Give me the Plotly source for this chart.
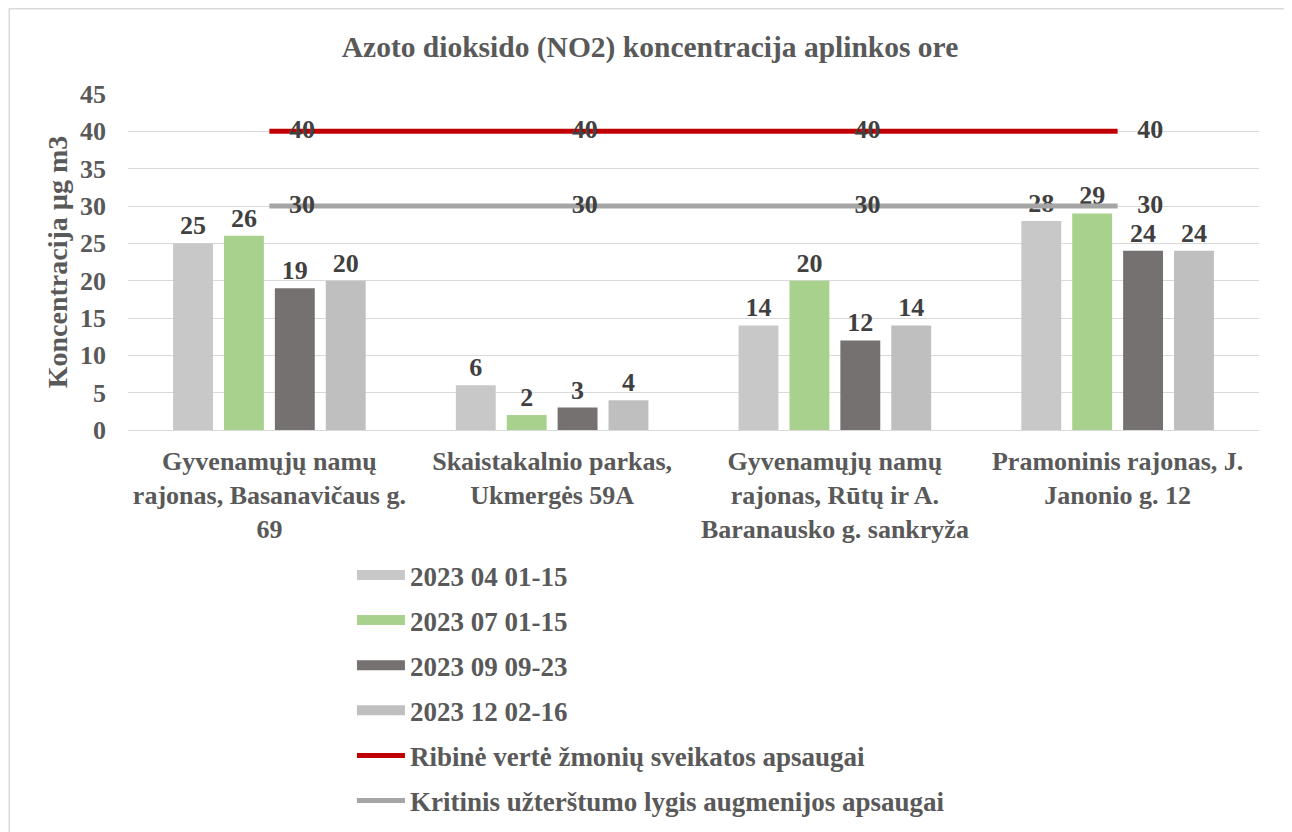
import plotly.graph_objects as go

# Datos
vietos = [
    "Gyvenamųjų namų<br>rajonas, Basanavičaus g.<br>69",
    "Skaistakalnio parkas,<br>Ukmergės 59A",
    "Gyvenamųjų namų<br>rajonas, Rūtų ir A.<br>Baranausko g. sankryža",
    "Pramoninis rajonas, J.<br>Janonio g. 12",
]
laikotarpiai = ["2023 04 01-15", "2023 07 01-15", "2023 09 09-23", "2023 12 02-16"]
balandis = [25, 6, 14, 28]
liepa = [26, 2, 20, 29]
rugsejis = [19, 3, 12, 24]
gruodis = [20, 4, 14, 24]
ribine = [40, 40, 40, 40]
kritinis = [30, 30, 30, 30]
spalvos = ["#C8C8C8", "#A9D18E", "#767171", "#BFBFBF"]

SERIF = "Liberation Serif, Times New Roman, serif"
fig = go.Figure()

for i, (vardas, reiksmes) in enumerate(zip(laikotarpiai, [balandis, liepa, rugsejis, gruodis])):
    fig.add_trace(go.Bar(
        x=vietos, y=reiksmes, name=vardas,
        marker=dict(color=spalvos[i], line=dict(width=0)),
        text=reiksmes, textposition="outside", cliponaxis=False,
        textfont=dict(family=SERIF, size=26, color="#404040", weight="bold"),
        showlegend=False,
    ))
    # legendos elementas (platus stačiakampis)
    fig.add_trace(go.Scatter(
        x=[None], y=[None], mode="lines", name="<b>" + vardas + "</b>",
        line=dict(color=spalvos[i], width=13),
        legendgroup="g%d" % i,
    ))

for j, (vardas, reiksmes, spalva) in enumerate([
        ("Ribinė vertė žmonių sveikatos apsaugai", ribine, "#C00000"),
        ("Kritinis užterštumo lygis augmenijos apsaugai", kritinis, "#A5A5A5")]):
    fig.add_trace(go.Scatter(
        x=vietos, y=reiksmes, name="<b>" + vardas + "</b>", mode="lines+text",
        line=dict(color=spalva, width=5),
        text=["\u00a0\u00a0\u00a0" + str(v) for v in reiksmes], textposition="middle right",
        textfont=dict(family=SERIF, size=26, color="#404040", weight="bold"),
        cliponaxis=False,
        legendgroup="l%d" % j,
    ))

fig.update_layout(
    width=1284, height=824,
    margin=dict(l=120, r=33, t=86, b=402, autoexpand=False),
    paper_bgcolor="white", plot_bgcolor="white",
    barmode="group", bargap=0.28, bargroupgap=0.216,
    title=dict(text="<b>Azoto dioksido (NO2) koncentracija aplinkos ore</b>",
               x=0.5, xanchor="center", y=0.9527, yanchor="middle",
               font=dict(family=SERIF, size=29.5, color="#595959")),
    font=dict(family=SERIF, color="#595959"),
    xaxis=dict(tickfont=dict(family=SERIF, size=26, color="#595959"),
               showgrid=False, showline=True, linecolor="#D9D9D9", linewidth=1,
               ticks="", tickprefix="<b>", ticksuffix="</b>", ticklabelstandoff=8,
               automargin=False),
    yaxis=dict(range=[0, 45], dtick=5, showgrid=True, gridcolor="#D9D9D9", gridwidth=1,
               zeroline=False, ticks="", tickprefix="<b>", ticksuffix="</b>",
               ticklabelstandoff=21, automargin=False,
               tickfont=dict(family=SERIF, size=26, color="#595959"),
               title=dict(text="<b>Koncentracija µg m3</b>", standoff=4,
                          font=dict(family=SERIF, size=28, color="#595959"))),
    legend=dict(x=0.198, y=-0.36, xanchor="left", yanchor="top", orientation="v",
                font=dict(family=SERIF, size=27, color="#595959"),
                tracegroupgap=7, itemwidth=48, bgcolor="rgba(0,0,0,0)"),
    showlegend=True,
)

# Rėmelis aplink diagramą
fig.add_shape(type="rect", xref="paper", yref="paper",
              x0=-0.105, x1=1.0256, y0=-1.214, y1=1.254,
              line=dict(color="#D9D9D9", width=1.5), fillcolor="rgba(0,0,0,0)")

fig.write_html("out.html")
